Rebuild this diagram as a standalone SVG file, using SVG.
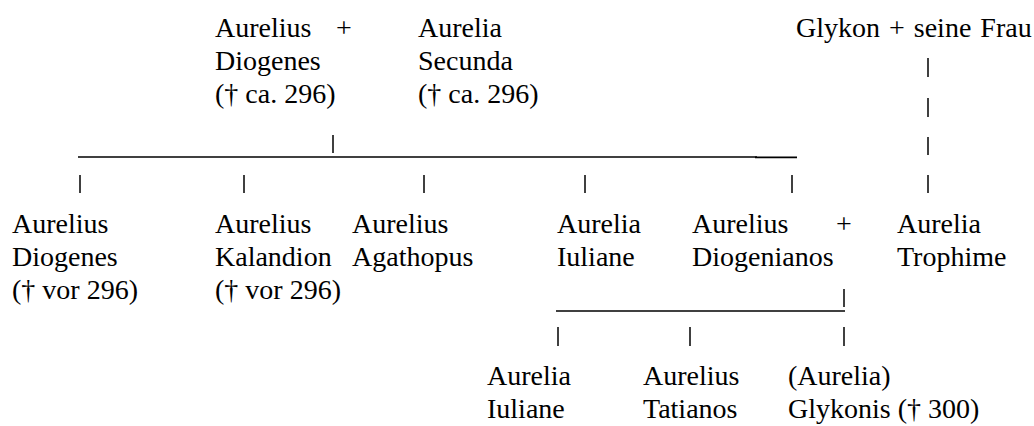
<svg xmlns="http://www.w3.org/2000/svg" width="1034" height="426" viewBox="0 0 1034 426">
<style>
.t{font-family:'Liberation Serif','Times New Roman','DejaVu Serif',serif;font-size:28px;fill:#000}
.c line{stroke:#000;stroke-width:1.5}
.c .h{stroke-width:1.3}
</style>
<rect width="1034" height="426" fill="#fff"/>
<g class="t" font-family="Liberation Serif, DejaVu Serif, serif" font-size="28">
<g id="n-aurelius-diogenes-sen">
<text x="215" y="37">Aurelius</text><text x="336" y="37">+</text>
<text x="215" y="70">Diogenes</text>
<text x="215" y="103">(† ca. 296)</text>
</g>
<g id="n-aurelia-secunda">
<text x="418" y="37">Aurelia</text>
<text x="418" y="70">Secunda</text>
<text x="418" y="103">(† ca. 296)</text>
</g>
<g id="n-glykon">
<text x="796" y="37" word-spacing="2">Glykon + seine Frau</text>
</g>
<g id="n-aurelius-diogenes">
<text x="12" y="233">Aurelius</text>
<text x="12" y="266">Diogenes</text>
<text x="12" y="299">(† vor 296)</text>
</g>
<g id="n-kalandion">
<text x="215" y="233">Aurelius</text>
<text x="215" y="266">Kalandion</text>
<text x="215" y="299">(† vor 296)</text>
</g>
<g id="n-agathopus">
<text x="352" y="233">Aurelius</text>
<text x="352" y="266">Agathopus</text>
</g>
<g id="n-iuliane-1">
<text x="557" y="233">Aurelia</text>
<text x="557" y="266">Iuliane</text>
</g>
<g id="n-diogenianos">
<text x="692" y="233">Aurelius</text><text x="836" y="233">+</text>
<text x="692" y="266">Diogenianos</text>
</g>
<g id="n-trophime">
<text x="897" y="233">Aurelia</text>
<text x="897" y="266">Trophime</text>
</g>
<g id="n-iuliane-2">
<text x="487" y="385">Aurelia</text>
<text x="487" y="418">Iuliane</text>
</g>
<g id="n-tatianos">
<text x="643" y="385">Aurelius</text>
<text x="643" y="418">Tatianos</text>
</g>
<g id="n-glykonis">
<text x="788" y="385">(Aurelia)</text>
<text x="788" y="418">Glykonis († 300)</text>
</g>
</g>
<g id="connectors" class="c">
<line x1="333" y1="135" x2="333" y2="153"/>
<line class="h" x1="78" y1="157" x2="757" y2="157"/>
<line x1="755" y1="157.3" x2="797" y2="157.3" style="stroke-width:1.7"/>
<line x1="80" y1="175" x2="80" y2="193"/>
<line x1="244" y1="175" x2="244" y2="193"/>
<line x1="424" y1="175" x2="424" y2="193"/>
<line x1="585" y1="175" x2="585" y2="193"/>
<line x1="792" y1="175" x2="792" y2="193"/>
<line x1="928" y1="58" x2="928" y2="77"/>
<line x1="928" y1="98" x2="928" y2="117"/>
<line x1="928" y1="137" x2="928" y2="155"/>
<line x1="928" y1="175" x2="928" y2="193"/>
<line class="h" x1="556" y1="311" x2="845" y2="311"/>
<line x1="844" y1="289" x2="844" y2="307"/>
<line x1="558" y1="327" x2="558" y2="346"/>
<line x1="690" y1="327" x2="690" y2="346"/>
<line x1="844" y1="327" x2="844" y2="346"/>
</g>
</svg>
